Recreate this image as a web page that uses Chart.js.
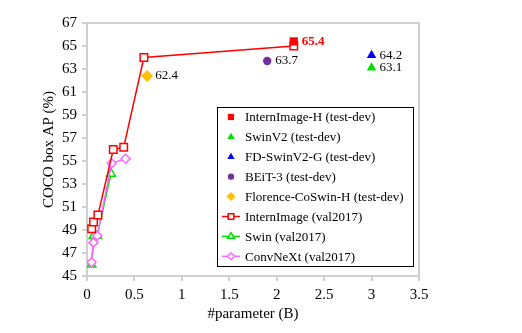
<!DOCTYPE html>
<html lang="en">
<head>
    <meta charset="UTF-8">
    <title>COCO box AP vs parameters</title>
    <script src="https://cdn.jsdelivr.net/npm/chart.js"></script>
    <style>
        html, body { margin: 0; padding: 0; background: #fff; }
        #wrap { width: 522px; height: 333px; position: relative; }
    </style>
</head>
<body>
    <div id="wrap"><canvas id="apChart"></canvas></div>

    <script>
        // model size in billions of params, box AP on COCO
        const internParams = [0.049, 0.069, 0.115, 0.277, 0.387, 0.6, 2.18];
        const internAP = [49.1, 49.7, 50.3, 56.0, 56.2, 64.0, 65.0];
        const swinParams = [0.048, 0.069, 0.107, 0.253];
        const swinAP = [46.0, 48.5, 48.5, 53.9];
        const convParams = [0.048, 0.068, 0.108, 0.26, 0.407];
        const convAP = [46.2, 47.9, 48.5, 54.8, 55.2];

        // test-dev results: [params, AP]
        const internH = [2.18, 65.4];
        const swinV2 = [3.0, 63.1];
        const fdSwinV2G = [3.0, 64.2];
        const beit3 = [1.9, 63.7];
        const florence = [0.634, 62.4];

        const xTicks = [0, 0.5, 1, 1.5, 2, 2.5, 3, 3.5];
        const yTicks = [45, 47, 49, 51, 53, 55, 57, 59, 61, 63, 65, 67];

        const serif = "'Liberation Serif', 'Times New Roman', serif";
        const toXY = (xs, ys) => xs.map((x, i) => ({ x: x, y: ys[i] }));

        const single = (label, pt, color, style, r, extra) => Object.assign({
            label: label,
            data: [{ x: pt[0], y: pt[1] }],
            showLine: false,
            pointStyle: style,
            pointRadius: r,
            pointHoverRadius: r,
            backgroundColor: color,
            borderColor: color,
            borderWidth: 0,
            valueLabel: true
        }, extra || {});

        const series = (label, data, color, style, r, order) => ({
            label: label,
            data: data,
            showLine: true,
            borderColor: color,
            borderWidth: 1.5,
            pointStyle: style,
            pointRadius: r,
            pointHoverRadius: r,
            pointBorderColor: color,
            pointBackgroundColor: '#fff',
            pointBorderWidth: 1.5,
            order: order
        });

        const datasets = [
            single('InternImage-H (test-dev)', internH, '#ff0000', 'rect', 5.8, { labelColor: '#ff0000', labelBold: true, order: 0 }),
            single('SwinV2 (test-dev)', swinV2, '#00e000', 'triangle', 5.5, { order: 0 }),
            single('FD-SwinV2-G (test-dev)', fdSwinV2G, '#0000ff', 'triangle', 5.5, { order: 0 }),
            single('BEiT-3 (test-dev)', beit3, '#7030a0', 'circle', 4.2, { order: 0 }),
            single('Florence-CoSwin-H (test-dev)', florence, '#ffc000', 'rectRot', 6, { order: 0 }),
            series('InternImage (val2017)', toXY(internParams, internAP), '#ff0000', 'rect', 5.3, 1),
            series('Swin (val2017)', toXY(swinParams, swinAP), '#00e000', 'triangle', 5, 3),
            series('ConvNeXt (val2017)', toXY(convParams, convAP), '#ff66ff', 'rectRot', 4.5, 2)
        ];

        // light gray box round the plot area
        const frame = {
            id: 'frame',
            beforeDatasetsDraw(chart) {
                const a = chart.chartArea, c = chart.ctx;
                c.save();
                c.strokeStyle = '#d0d0d0';
                c.lineWidth = 2;
                c.beginPath();
                c.moveTo(a.left, a.top);
                c.lineTo(a.right, a.top);
                c.lineTo(a.right, a.bottom);
                c.stroke();
                c.restore();
            }
        };

        // numbers next to the test-dev points
        const valueLabels = {
            id: 'valueLabels',
            afterDatasetsDraw(chart) {
                const c = chart.ctx;
                c.save();
                c.textBaseline = 'middle';
                chart.data.datasets.forEach((ds, i) => {
                    if (!ds.valueLabel) return;
                    const el = chart.getDatasetMeta(i).data[0];
                    c.font = (ds.labelBold ? 'bold ' : '') + '13px ' + serif;
                    c.fillStyle = ds.labelColor || '#000';
                    c.fillText(ds.data[0].y.toFixed(1), el.x + 8, el.y);
                });
                c.restore();
            }
        };

        // legend box inside the plot
        function drawMarker(c, ds, x, y) {
            const r = ds.pointRadius * 0.75;
            c.beginPath();
            if (ds.pointStyle === 'rect') {
                const s = r * Math.SQRT1_2;
                c.rect(x - s, y - s, 2 * s, 2 * s);
            } else if (ds.pointStyle === 'rectRot') {
                c.moveTo(x, y - r); c.lineTo(x + r, y); c.lineTo(x, y + r); c.lineTo(x - r, y); c.closePath();
            } else if (ds.pointStyle === 'triangle') {
                const h = r * 1.5;
                c.moveTo(x, y - h * 0.66); c.lineTo(x + r * 0.9, y + h * 0.34); c.lineTo(x - r * 0.9, y + h * 0.34); c.closePath();
            } else {
                c.arc(x, y, r, 0, Math.PI * 2);
            }
        }

        const boxLegend = {
            id: 'boxLegend',
            afterDraw(chart) {
                const c = chart.ctx;
                const left = 217, top = 107, w = 196, h = 159, step = 19.9;
                c.save();
                c.fillStyle = '#fff';
                c.fillRect(left, top, w, h);
                c.strokeStyle = '#000';
                c.lineWidth = 1;
                c.strokeRect(left + 0.5, top + 0.5, w, h);
                c.font = '13px ' + serif;
                c.textBaseline = 'middle';
                chart.data.datasets.forEach((ds, i) => {
                    const y = top + 10 + i * step;
                    const mx = 231;
                    if (ds.showLine) {
                        c.strokeStyle = ds.borderColor;
                        c.lineWidth = 1.5;
                        c.beginPath();
                        c.moveTo(222, y); c.lineTo(240, y);
                        c.stroke();
                        drawMarker(c, ds, mx, y);
                        c.fillStyle = '#fff';
                        c.fill();
                        c.stroke();
                    } else {
                        drawMarker(c, ds, mx, y);
                        c.fillStyle = ds.backgroundColor;
                        c.fill();
                    }
                    c.fillStyle = '#000';
                    c.fillText(ds.label, 245, y + 1);
                });
                c.restore();
            }
        };

        new Chart(document.getElementById('apChart'), {
            type: 'scatter',
            data: { datasets: datasets },
            options: {
                responsive: true,
                maintainAspectRatio: false,
                animation: false,
                layout: { padding: { top: 23, right: 103, left: 0, bottom: 0 } },
                plugins: { legend: { display: false }, tooltip: { enabled: false } },
                scales: {
                    x: {
                        type: 'linear',
                        min: 0,
                        max: 3.5,
                        afterBuildTicks: s => { s.ticks = xTicks.map(v => ({ value: v })); },
                        afterFit: s => { s.height = 57; },
                        grid: { drawOnChartArea: false, drawTicks: true, tickLength: 5, color: '#d0d0d0', lineWidth: 2 },
                        border: { color: '#d0d0d0', width: 2 },
                        ticks: { color: '#000', padding: 5, maxRotation: 0, callback: v => String(v), font: { family: serif, size: 15 } },
                        title: { display: true, text: '#parameter (B)', color: '#000', padding: { top: 2, bottom: 10 }, font: { family: serif, size: 15 } }
                    },
                    y: {
                        min: 45,
                        max: 67,
                        afterBuildTicks: s => { s.ticks = yTicks.map(v => ({ value: v })); },
                        afterFit: s => { s.width = 87; },
                        grid: { drawOnChartArea: false, drawTicks: true, tickLength: 5, color: '#d0d0d0', lineWidth: 2 },
                        border: { color: '#d0d0d0', width: 2 },
                        ticks: { color: '#000', padding: 5, callback: v => String(v), font: { family: serif, size: 15 } },
                        title: { display: true, text: 'COCO box AP (%)', color: '#000', padding: { top: 40, bottom: 0 }, font: { family: serif, size: 15 } }
                    }
                }
            },
            plugins: [frame, valueLabels, boxLegend]
        });
    </script>
</body>
</html>
